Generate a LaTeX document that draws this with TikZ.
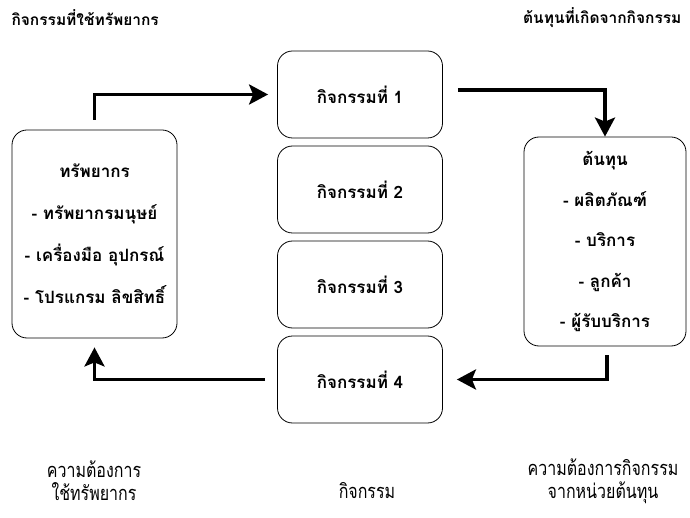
\documentclass[tikz,border=0pt]{standalone}
\usepackage{fontspec}
\setmainfont[Script=Thai]{Loma}
\newfontfamily\thaifont[Script=Thai]{Loma}
\newfontfamily\thainarrow[Script=Thai,FakeStretch=0.8]{Loma}
\usetikzlibrary{arrows.meta,calc}
\begin{document}
\begin{tikzpicture}[x=1pt,y=-1pt,
  box/.style={draw, line width=0.8pt, rounded corners=15pt, align=center,
    font=\thaifont\bfseries\fontsize{17}{42}\selectfont},
  actbox/.style={box, minimum width=165pt, minimum height=87pt},
  flow/.style={line width=3.6pt, -{Stealth[length=19pt,width=20pt,inset=4pt]}},
  heading/.style={font=\thaifont\bfseries\fontsize{15.5}{20}\selectfont},
  caption/.style={font=\thainarrow\fontsize{20}{23}\selectfont, align=center}]
\useasboundingbox (0,0) rectangle (690,518);

% activity column
\node[actbox] (a1) at (360,94.5) {กิจกรรมที่ 1};
\node[actbox] (a2) at (360,189.5) {กิจกรรมที่ 2};
\node[actbox] (a3) at (360,284.5) {กิจกรรมที่ 3};
\node[actbox] (a4) at (360,379.5) {กิจกรรมที่ 4};

% resources and costs
\node[box, minimum width=165pt, minimum height=208pt] (res) at (94.5,234)
  {ทรัพยากร\\- ทรัพยากรมนุษย์\\- เครื่องมือ อุปกรณ์\\- โปรแกรม ลิขสิทธิ์};
\node[box, minimum width=162pt, minimum height=209pt, font=\thaifont\bfseries\fontsize{17}{40.5}\selectfont] (cost) at (605,241.5)
  {ต้นทุน\\- ผลิตภัณฑ์\\- บริการ\\- ลูกค้า\\- ผู้รับบริการ};

% headings
\node[heading, anchor=west] (hl) at (8,18) {กิจกรรมที่ใช้ทรัพยากร};
\node[heading, anchor=east] (hr) at (685,18) {ต้นทุนที่เกิดจากกิจกรรม};

% captions
\node[caption] (cl) at (94,481) {ความต้องการ\\ใช้ทรัพยากร};
\node[caption] (cm) at (367,491) {กิจกรรม};
\node[caption] (cr) at (603,481) {ความต้องการกิจกรรม\\จากหน่วยต้นทุน};

% flow arrows
\draw[flow, shorten >=9pt] ($(res.north)+(0,-10)$) |- (a1.west);
\draw[flow] ($(a1.east)+(15,-4.5)$) -| (cost.north);
\draw[flow, shorten >=14pt] ($(cost.south)+(2,9)$) |- (a4.east);
\draw[flow, shorten >=9pt] ($(a4.west)+(-12,0)$) -| (res.south);
\end{tikzpicture}
\end{document}
